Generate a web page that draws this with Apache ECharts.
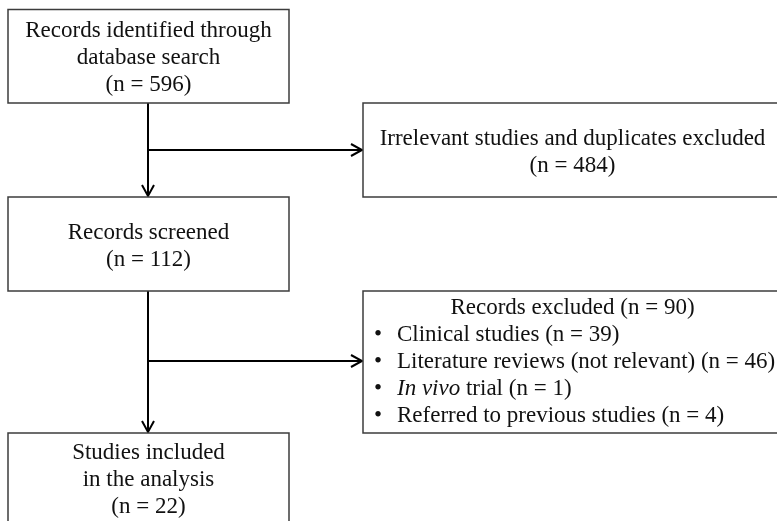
<!DOCTYPE html>
<html>
<head>
<meta charset="utf-8">
<script src="https://cdn.jsdelivr.net/npm/echarts@6/dist/echarts.min.js"></script>
<style>
html, body { margin: 0; padding: 0; background: #fff; }
#chart { width: 777px; height: 521px; }
</style>
</head>
<body>
<div id="chart"></div>
<script>
// flow stages (text + counts)
const stageTitles = [
  ['Records identified through', 'database search'],
  ['Irrelevant studies and duplicates excluded'],
  ['Records screened'],
  ['Records excluded'],
  ['Studies included', 'in the analysis']
];
const stageCounts = [596, 484, 112, 90, 22];
const excludedReasons = ['Clinical studies', 'Literature reviews (not relevant)', '{it|In vivo} trial', 'Referred to previous studies'];
const excludedCounts = [39, 46, 1, 4];

// layout (canvas units, y down)
const boxRects = [
  [8, 9.5, 289, 103],
  [363, 103, 782, 197],
  [8, 197, 289, 291],
  [363, 291, 782, 433],
  [8, 433, 289, 523]
];
const arrowLinks = [
  [[148, 103], [148, 197]],
  [[148, 150], [363, 150]],
  [[148, 291], [148, 433]],
  [[148, 361], [363, 361]]
];

const FONT = 'Liberation Serif';
const FS = 23;
const LH = 27;

function txt(text, x, y, align) {
  return {
    type: 'text',
    style: {
      text: text, x: x, y: y,
      fill: '#111', fontSize: FS, fontFamily: FONT,
      align: align || 'center', verticalAlign: 'middle',
      rich: { it: { fontStyle: 'italic', fontSize: FS, fontFamily: FONT, fill: '#111' } }
    }
  };
}

function renderBox(params, api) {
  const i = api.value(0);
  const r = boxRects[i];
  const p0 = api.coord([r[0], r[1]]);
  const p1 = api.coord([r[2], r[3]]);
  const children = [{
    type: 'rect',
    shape: { x: p0[0], y: p0[1], width: p1[0] - p0[0], height: p1[1] - p0[1] },
    style: { fill: '#fff', stroke: '#3c3c3c', lineWidth: 1.5 }
  }];
  const cx = (p0[0] + p1[0]) / 2;
  const cy = (p0[1] + p1[1]) / 2;
  if (i === 3) {
    const n = excludedReasons.length + 1;
    const y0 = cy - (n - 1) * LH / 2;
    children.push(txt(stageTitles[i][0] + ' (n = ' + stageCounts[i] + ')', cx, y0));
    excludedReasons.forEach(function (reason, k) {
      const y = y0 + (k + 1) * LH;
      children.push(txt('•', p0[0] + 15, y, 'center'));
      children.push(txt(reason + ' (n = ' + excludedCounts[k] + ')', p0[0] + 34, y, 'left'));
    });
  } else {
    const lines = stageTitles[i].concat(['(n = ' + stageCounts[i] + ')']);
    const y0 = cy + 2 - (lines.length - 1) * LH / 2;
    lines.forEach(function (l, k) {
      children.push(txt(l, cx, y0 + k * LH));
    });
  }
  return { type: 'group', children: children };
}

function renderArrow(params, api) {
  const a = arrowLinks[api.value(0)];
  const s = api.coord(a[0]);
  const e = api.coord(a[1]);
  const dx = e[0] - s[0], dy = e[1] - s[1];
  const len = Math.sqrt(dx * dx + dy * dy);
  const ux = dx / len, uy = dy / len;
  const hl = 12, hw = 6;
  const bx = e[0] - ux * hl, by = e[1] - uy * hl;
  return {
    type: 'group',
    children: [
      { type: 'line', shape: { x1: s[0], y1: s[1], x2: e[0] - ux, y2: e[1] - uy },
        style: { stroke: '#000', lineWidth: 2 } },
      { type: 'polyline',
        shape: { points: [[bx - uy * hw, by + ux * hw], [e[0] - ux, e[1] - uy], [bx + uy * hw, by - ux * hw]] },
        style: { stroke: '#000', lineWidth: 2, fill: null } }
    ]
  };
}

const chart = echarts.init(document.getElementById('chart'));
chart.setOption({
  animation: false,
  grid: { left: 0, right: 0, top: 0, bottom: 0 },
  xAxis: { type: 'value', min: 0, max: 777, show: false },
  yAxis: { type: 'value', min: 0, max: 521, inverse: true, show: false },
  series: [
    {
      type: 'custom',
      renderItem: renderArrow,
      data: arrowLinks.map(function (_, i) { return [i]; }),
      z: 1
    },
    {
      type: 'custom',
      renderItem: renderBox,
      data: boxRects.map(function (_, i) { return [i]; }),
      z: 2
    }
  ]
});
</script>
</body>
</html>
